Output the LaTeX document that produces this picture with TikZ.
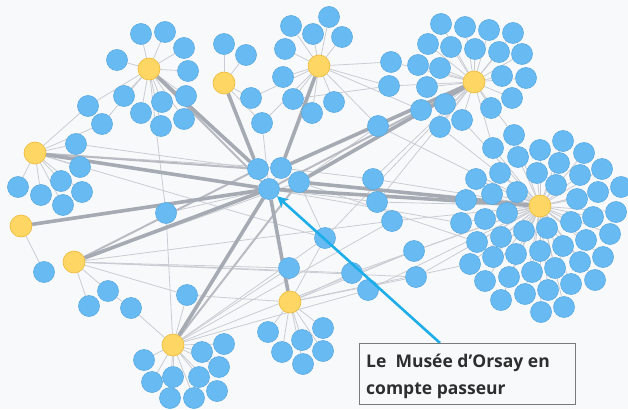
\documentclass[tikz,border=0pt]{standalone}
\usepackage{fontspec}
\newfontfamily\notefont{Open Sans}
\usetikzlibrary{arrows.meta}
\pgfdeclarelayer{back}
\pgfdeclarelayer{bg}
\pgfsetlayers{back,bg,main}
\definecolor{bgc}{HTML}{F8F9FB}
\definecolor{nblue}{HTML}{68BBF2}
\definecolor{nblueb}{HTML}{5AAAE0}
\definecolor{nyel}{HTML}{FDD663}
\definecolor{nyelb}{HTML}{EDBA39}
\definecolor{ethin}{HTML}{C9CCD2}
\definecolor{emid}{HTML}{B8BBC2}
\definecolor{ethick}{HTML}{A6AAB2}
\definecolor{arrc}{HTML}{1DAEEA}
\definecolor{boxc}{HTML}{7A7A7A}
\definecolor{txtc}{HTML}{2E2E2E}
\begin{document}
\begin{tikzpicture}[x=1pt,y=-1pt,
  bn/.style={circle,fill=nblue,draw=nblueb,line width=0.6pt,minimum size=21pt,inner sep=0pt},
  yn/.style={circle,fill=nyel,draw=nyelb,line width=0.6pt,minimum size=22pt,inner sep=0pt},
  thinE/.style={draw=ethin,line width=0.8pt},
  midE/.style={draw=emid,line width=2pt},
  thickE/.style={draw=ethick,line width=3.6pt},
  arrowE/.style={draw=arrc,line width=2.6pt,-{Stealth[length=11pt,width=11pt]}},
  notetext/.style={anchor=base west,inner sep=0pt,text=txtc,font=\notefont\bfseries\fontsize{17.5}{21}\selectfont}]
\begin{pgfonlayer}{back}
\fill[bgc] (0,0) rectangle (628,409);
\end{pgfonlayer}
\useasboundingbox (0,0) rectangle (628,409);
% hubs
\foreach \n/\x/\y in {Y1/149/69,Y2/35/153,Y3/21/226,Y4/224/83,Y5/319/66,Y6/474/82,Y7/540/206,Y8/290/302,Y9/74/262,Y10/173/345}
  \node[yn] (\n) at (\x,\y) {};
% center
\foreach \n/\x/\y in {O/269/189,ca/258/169,cb/281/168,cc/299/182}
  \node[bn] (\n) at (\x,\y) {};
% Y1 cluster
\foreach \n/\x/\y in {a1/141/34,a2/165/32,a3/184/48,a4/188/71,a5/186/96,a6/184/119,a7/162/102,a8/141/113,a9/161/126,a10/124/96,a11/117/60,a12/88/106,a13/102/124}
  \node[bn] (\n) at (\x,\y) {};
% Y2 cluster
\foreach \n/\x/\y in {b1/76/144,b2/80/167,b3/18/187,b4/41/195,b5/61/181,b6/82/192,b7/63/205}
  \node[bn] (\n) at (\x,\y) {};
% Y4, Y5
\foreach \n/\x/\y in {c1/224/44,c2/246/55,d1/291/26,d2/329/17,d3/313/34,d4/342/37,d5/285/49,d6/283/77,d7/251/98,d8/293/99,d9/312/113,d10/334/102,d11/262/123}
  \node[bn] (\n) at (\x,\y) {};
% Y6 cluster
\foreach \n/\x/\y in {f1/441/24,f2/465/27,f3/489/30,f4/513/33,f5/428/44,f6/451/47,f7/475/49,f8/499/52,f9/522/54,f10/418/65,f11/440/68,f12/502/76,f13/526/78,f14/427/87,f15/512/98,f16/491/108,f17/445/104,f18/421/110,f19/462/120,f20/440/127}
  \node[bn] (\n) at (\x,\y) {};
% shared
\foreach \n/\x/\y in {e1/391/62,e2/389/86,e4/378/126,m1/166/213,m2/187/295,m3/289/268,m4/325/238,m5/352/273,m6/368/290,m7/373/179,m8/377/202,m9/392/221,m10/414/251,m11/416/277}
  \node[bn] (\n) at (\x,\y) {};
% Y7 cluster
\foreach \n/\x/\y in {g1/514/135,g2/493/148,g3/518/157,g4/540/150,g5/563/141,g6/584/153,g7/602/169,g8/621/187,g9/559/163,g10/537/173,g11/500/173,g12/476/179,g13/517/192,g14/492/194,g15/466/200,g16/556/185,g17/580/175,g18/598/192,g19/461/223,g20/485/219,g21/507/213,g22/577/199,g23/593/217,g24/616/212,g25/477/242,g26/501/237,g27/524/231,g28/547/228,g29/571/222,g30/586/240,g31/610/234,g32/470/264,g33/493/257,g34/516/254,g35/540/251,g36/563/246,g37/603/257,g38/580/262,g39/555/268,g40/532/272,g41/509/277,g42/485/281,g43/595/280,g44/571/284,g45/548/290,g46/525/294,g47/501/300,g48/564/307,g49/541/312}
  \node[bn] (\n) at (\x,\y) {};
% Y8, Y10, Y9, Y3 clusters
\foreach \n/\x/\y in {h1/268/332,h2/282/352,h3/302/340,h4/323/328,h5/323/351,h6/303/364,k1/144/360,k2/152/382,k3/173/377,k4/199/377,k5/202/352,k6/224/344,k7/219/367,k8/217/391,k9/170/398,k10/194/398,n1/89/306,n2/108/291,n3/131/308,p1/44/272}
  \node[bn] (\n) at (\x,\y) {};

\begin{pgfonlayer}{bg}
% spokes
\foreach \n in {a1,a2,a3,a4,a5,a6,a7,a8,a9,a10,a11,a12,a13} \draw[thinE] (Y1) -- (\n);
\foreach \n in {b1,b2,b3,b4,b5,b6,b7,a12,a13} \draw[thinE] (Y2) -- (\n);
\foreach \n in {c1,c2,d7,d11} \draw[thinE] (Y4) -- (\n);
\foreach \n in {d1,d2,d3,d4,d5,d6,d7,d8,d9,d10,d11,e1,e2,e4,f18} \draw[thinE] (Y5) -- (\n);
\foreach \n in {f1,f2,f3,f4,f5,f6,f7,f8,f9,f10,f11,f12,f13,f14,f15,f16,f17,f18,f19,f20,e1,e2,e4,g1,g2,m7,m8,m4} \draw[thinE] (Y6) -- (\n);
\foreach \n in {g1,g2,g3,g4,g5,g6,g7,g8,g9,g10,g11,g12,g13,g14,g15,g16,g17,g18,g19,g20,g21,g22,g23,g24,g25,g26,g27,g28,g29,g30,g31,g32,g33,g34,g35,g36,g37,g38,g39,g40,g41,g42,g43,g44,g45,g46,g47,g48,g49,m7,m8,m9,m10,m11,m5,m6,e4,f20,f19} \draw[thinE] (Y7) -- (\n);
\foreach \n in {h1,h2,h3,h4,h5,h6,m4,m5,m10,m11,m2,g32} \draw[thinE] (Y8) -- (\n);
\foreach \n in {k1,k2,k3,k4,k5,k6,k7,k8,k9,k10,m1,m2,m3,m4,m6,m9,m10,n3,cb} \draw[thinE] (Y10) -- (\n);
\foreach \n in {n1,n2,m2,m3,m5,m9,m11,cc} \draw[thinE] (Y9) -- (\n);
\draw[thinE] (n2) -- (n3);
\draw[thinE] (Y3) -- (p1);
\draw[thinE] (Y1) -- (m1);
\draw[thinE] (m1) -- (O);
\draw[thinE] (d11) -- (O);
\draw[thinE] (b1) -- (ca);
\draw[thinE] (Y2) -- (cb);
\draw[thinE] (Y2) -- (m4);
\draw[thinE] (m7) -- (cb);
\draw[thinE] (m8) -- (O);
\draw[thinE] (m4) -- (cc);
\draw[thinE] (e4) -- (cc);
\draw[thinE] (O) -- (g19);
\draw[thinE] (cc) -- (g25);
\draw[thinE] (d8) -- (e2);
% medium and thick
\draw[midE] (Y1) -- (O);
\draw[midE] (Y2) -- (ca);
\draw[midE] (Y6) -- (O);
\draw[midE] (Y9) -- (ca);
\draw[midE] (Y10) -- (cc);
\draw[thickE] (Y1) -- (ca);
\draw[thickE] (Y4) -- (ca);
\draw[thickE] (Y5) -- (cb);
\draw[thickE] (Y6) -- (cb);
\draw[thickE] (Y6) -- (cc);
\draw[thickE] (Y7) -- (cc);
\draw[thickE] (Y7) -- (O);
\draw[thickE] (Y2) -- (O);
\draw[thickE] (Y3) -- (O);
\draw[thickE] (Y9) -- (O);
\draw[thickE] (Y10) -- (O);
\draw[thickE] (Y8) -- (O);
\end{pgfonlayer}

% annotation
\coordinate (as) at (440,343);
\draw[arrowE] (as) -- (O);
\node[draw=boxc,fill=bgc,line width=0.8pt,anchor=north west,minimum width=216pt,minimum height=61pt,inner sep=0pt] (note) at (359,343) {};
\node[notetext] (t1) at (366,367) {Le\ \ Musée d’Orsay en};
\node[notetext] (t2) at (366,394) {compte passeur};
\end{tikzpicture}
\end{document}
